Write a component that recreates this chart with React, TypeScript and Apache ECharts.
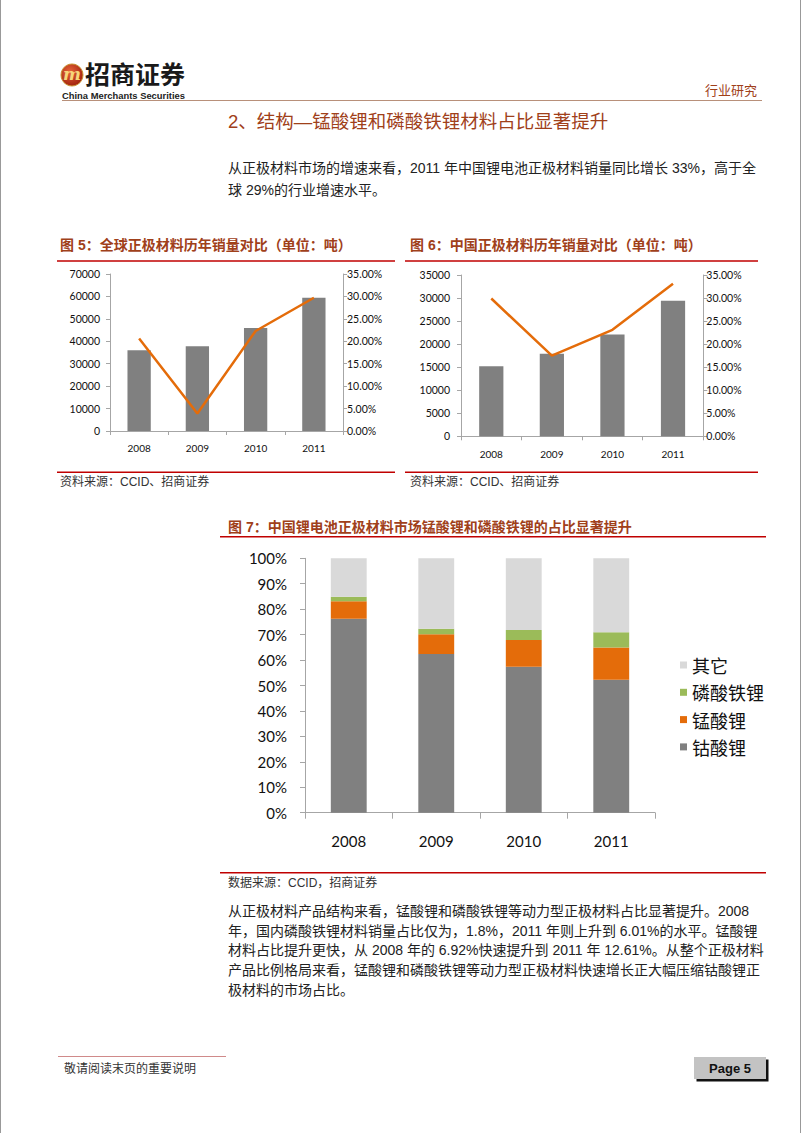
import React, { useEffect, useRef } from "react";
import * as echarts from "echarts";

const years = ["2008", "2009", "2010", "2011"];
// 图5 全球正极材料销量（吨）与增速（%）
const globalSales = [36000, 37800, 45900, 59400];
const globalGrowth = [20.6, 3.9, 22.3, 29.7];
// 图6 中国正极材料销量（吨）与增速（%）
const chinaSales = [15200, 17900, 22100, 29400];
const chinaGrowth = [29.9, 17.5, 23.1, 33.1];
// 图7 占比（%）
const shareLco = [76.2, 62.4, 57.4, 52.3];
const shareLmo = [6.92, 7.7, 10.5, 12.61];
const shareLfp = [1.8, 2.2, 3.9, 6.01];
const shareOther = [15.08, 27.7, 28.2, 29.08];
const legendNames = ["其它", "磷酸铁锂", "锰酸锂", "钴酸锂"];

const para1 = [
  "从正极材料市场的增速来看，2011 年中国锂电池正极材料销量同比增长 33%，高于全",
  "球 29%的行业增速水平。",
];
const para2 = [
  "从正极材料产品结构来看，锰酸锂和磷酸铁锂等动力型正极材料占比显著提升。2008",
  "年，国内磷酸铁锂材料销量占比仅为，1.8%，2011 年则上升到 6.01%的水平。锰酸锂",
  "材料占比提升更快，从 2008 年的 6.92%快速提升到 2011 年 12.61%。从整个正极材料",
  "产品比例格局来看，锰酸锂和磷酸铁锂等动力型正极材料快速增长正大幅压缩钴酸锂正",
  "极材料的市场占比。",
];

const CJK = "'Liberation Sans', 'Noto Sans CJK SC', sans-serif";
const NUM = "Lato, 'Noto Sans', sans-serif";
const AXIS = "#a6a6a6";
const RED = "#c00000";
const BROWN = "#a0401a";

function txt(text: string, x: number, y: number, size: number, opts: any = {}) {
  const align = opts.align || "left";
  return {
    type: "text",
    x,
    y,
    silent: true,
    style: {
      text,
      fill: opts.color || "#222",
      fontSize: size,
      fontFamily: opts.family || CJK,
      fontWeight: opts.weight || "normal",
      fontStyle: opts.style || "normal",
      align,
      textAlign: align,
      verticalAlign: "middle",
      textVerticalAlign: "middle",
    },
  };
}

function hline(x1: number, x2: number, y: number, color: string, w: number) {
  return {
    type: "line",
    silent: true,
    shape: { x1, y1: y, x2, y2: y },
    style: { stroke: color, lineWidth: w },
  };
}

export default function App() {
  const ref = useRef<HTMLDivElement>(null);

  useEffect(() => {
    if (!ref.current) return;
    const chart = echarts.init(ref.current, null, { renderer: "svg" });

    const plain = (v: number) => String(v);
    const pct2 = (v: number) => v.toFixed(2) + "%";

    const smallCat = (gridIndex: number, margin: number) => ({
      type: "category",
      gridIndex,
      data: years,
      axisLine: { show: true, lineStyle: { color: AXIS, width: 1 } },
      axisTick: { show: true, length: 4, lineStyle: { color: AXIS } },
      axisLabel: { fontSize: 10, color: "#111", margin, fontFamily: NUM },
      splitLine: { show: false },
    });
    const smallVal = (gridIndex: number, pos: string, max: number, interval: number, margin: number, fmt: any) => ({
      type: "value",
      gridIndex,
      position: pos,
      min: 0,
      max,
      interval,
      axisLine: { show: true, lineStyle: { color: AXIS, width: 1 } },
      axisTick: { show: true, length: 4, lineStyle: { color: AXIS } },
      axisLabel: { fontSize: 10.5, color: "#111", margin, fontFamily: NUM, formatter: fmt },
      splitLine: { show: false },
    });

    const graphics: any[] = [
      // page borders
      { type: "line", silent: true, shape: { x1: 0.5, y1: 0, x2: 0.5, y2: 1133 }, style: { stroke: "#999", lineWidth: 1 } },
      { type: "line", silent: true, shape: { x1: 800.5, y1: 0, x2: 800.5, y2: 1133 }, style: { stroke: "#999", lineWidth: 1 } },
      // header logo
      {
        type: "circle",
        silent: true,
        shape: { cx: 72, cy: 75, r: 11 },
        style: {
          fill: new echarts.graphic.RadialGradient(0.4, 0.35, 0.7, [
            { offset: 0, color: "#e8643a" },
            { offset: 1, color: "#9e1f0c" },
          ]),
          stroke: "#c9932f",
          lineWidth: 1,
        },
      },
      txt("m", 72, 74, 17, { color: "#f6d57a", weight: "bold", style: "italic", family: "'DejaVu Serif', serif", align: "center" }),
      txt("招商证券", 85, 73, 25, { color: "#1a1a1a", weight: "bold", family: "'Noto Sans CJK SC', sans-serif" }),
      txt("China Merchants Securities", 62, 95.5, 9.4, { color: "#222", weight: "bold", family: "'Liberation Sans', Arial, sans-serif" }),
      txt("行业研究", 757, 89, 13, { color: BROWN, align: "right", family: "'Noto Sans CJK SC', sans-serif" }),
      hline(62, 762, 100.5, "#b8907a", 1),
      // section title
      txt("2、结构—锰酸锂和磷酸铁锂材料占比显著提升", 228, 121.5, 18.5, { color: BROWN }),
      // paragraph 1
      ...para1.map((l, i) => txt(l, 228, 168 + i * 22, 14, { color: "#222" })),
      // chart 5 title & rules
      txt("图 5：全球正极材料历年销量对比（单位：吨）", 60, 245, 14, { color: BROWN, weight: "bold" }),
      hline(57, 395, 261, RED, 1.5),
      hline(57, 395, 472.3, RED, 1.5),
      txt("资料来源：CCID、招商证券", 60, 481.7, 12, { color: "#333" }),
      // chart 6 title & rules
      txt("图 6：中国正极材料历年销量对比（单位：吨）", 410, 245, 14, { color: BROWN, weight: "bold" }),
      hline(405, 758, 261, RED, 1.5),
      hline(405, 758, 472.3, RED, 1.5),
      txt("资料来源：CCID、招商证券", 410, 481.7, 12, { color: "#333" }),
      // chart 7 title & rules
      txt("图 7：中国锂电池正极材料市场锰酸锂和磷酸铁锂的占比显著提升", 228, 527, 14, { color: BROWN, weight: "bold" }),
      hline(220, 766, 536.7, RED, 1.5),
      hline(220, 766, 872.8, RED, 1.5),
      txt("数据来源：CCID，招商证券", 228, 882.7, 12, { color: "#333" }),
      // paragraph 2
      ...para2.map((l, i) => txt(l, 228, 910.7 + i * 19.8, 14, { color: "#222" })),
      // footer
      hline(58, 226, 1056.5, "#d08a8a", 1),
      txt("敬请阅读末页的重要说明", 64, 1068.5, 12, { color: "#333" }),
      { type: "rect", silent: true, shape: { x: 696.5, y: 1059.5, width: 72, height: 22 }, style: { fill: "#111" } },
      { type: "rect", silent: true, shape: { x: 694, y: 1057, width: 72, height: 22 }, style: { fill: "#c3c3c3" } },
      txt("Page 5", 730, 1068.5, 13, { color: "#111", weight: "bold", align: "center", family: "'Liberation Sans', Arial, sans-serif" }),
    ];

    chart.setOption({
      animation: false,
      backgroundColor: "#ffffff",
      graphic: { elements: graphics },
      grid: [
        { left: 110, right: 802 - 343, top: 274, bottom: 1133 - 431, containLabel: false },
        { left: 461, right: 802 - 703.3, top: 275, bottom: 1133 - 436.3, containLabel: false },
        { left: 305, right: 802 - 655, top: 558.3, bottom: 1133 - 812.7, containLabel: false },
      ],
      legend: {
        orient: "vertical",
        left: 680,
        top: 655,
        padding: 0,
        itemWidth: 7,
        itemHeight: 7,
        itemGap: 7.3,
        icon: "rect",
        selectedMode: false,
        data: legendNames,
        textStyle: { fontSize: 18, lineHeight: 20, color: "#111", fontFamily: "'Noto Sans CJK SC', sans-serif" },
      },
      xAxis: [
        smallCat(0, 12),
        smallCat(1, 13),
        {
          type: "category",
          gridIndex: 2,
          data: years,
          axisLine: { show: true, lineStyle: { color: AXIS, width: 1 } },
          axisTick: { show: true, length: 6, lineStyle: { color: AXIS } },
          axisLabel: { fontSize: 15, color: "#111", margin: 21, fontFamily: NUM },
          splitLine: { show: false },
        },
      ],
      yAxis: [
        smallVal(0, "left", 70000, 10000, 10, plain),
        smallVal(0, "right", 35, 5, 4, pct2),
        smallVal(1, "left", 35000, 5000, 11, plain),
        smallVal(1, "right", 35, 5, 3, pct2),
        {
          type: "value",
          gridIndex: 2,
          min: 0,
          max: 100,
          interval: 10,
          axisLine: { show: true, lineStyle: { color: AXIS, width: 1 } },
          axisTick: { show: true, length: 5, lineStyle: { color: AXIS } },
          axisLabel: { fontSize: 15, color: "#111", margin: 18, fontFamily: NUM, formatter: "{value}%" },
          splitLine: { show: false },
        },
      ],
      series: [
        { name: "全球销量", type: "bar", xAxisIndex: 0, yAxisIndex: 0, data: globalSales, barWidth: "40%", itemStyle: { color: "#808080" } },
        { name: "全球增速", type: "line", xAxisIndex: 0, yAxisIndex: 1, data: globalGrowth, symbol: "none", z: 5, lineStyle: { color: "#e46c0a", width: 2.5 } },
        { name: "中国销量", type: "bar", xAxisIndex: 1, yAxisIndex: 2, data: chinaSales, barWidth: "40%", itemStyle: { color: "#808080" } },
        { name: "中国增速", type: "line", xAxisIndex: 1, yAxisIndex: 3, data: chinaGrowth, symbol: "none", z: 5, lineStyle: { color: "#e46c0a", width: 2.5 } },
        { name: "钴酸锂", type: "bar", xAxisIndex: 2, yAxisIndex: 4, stack: "share", data: shareLco, barWidth: "41%", itemStyle: { color: "#808080" } },
        { name: "锰酸锂", type: "bar", xAxisIndex: 2, yAxisIndex: 4, stack: "share", data: shareLmo, barWidth: "41%", itemStyle: { color: "#e46c0a" } },
        { name: "磷酸铁锂", type: "bar", xAxisIndex: 2, yAxisIndex: 4, stack: "share", data: shareLfp, barWidth: "41%", itemStyle: { color: "#9bbb59" } },
        { name: "其它", type: "bar", xAxisIndex: 2, yAxisIndex: 4, stack: "share", data: shareOther, barWidth: "41%", itemStyle: { color: "#d9d9d9" } },
      ],
    });

    return () => {
      chart.dispose();
    };
  }, []);

  return (
    <div
      ref={ref}
      style={{ position: "absolute", left: 0, top: 0, width: 802, height: 1133, background: "#fff" }}
    />
  );
}
